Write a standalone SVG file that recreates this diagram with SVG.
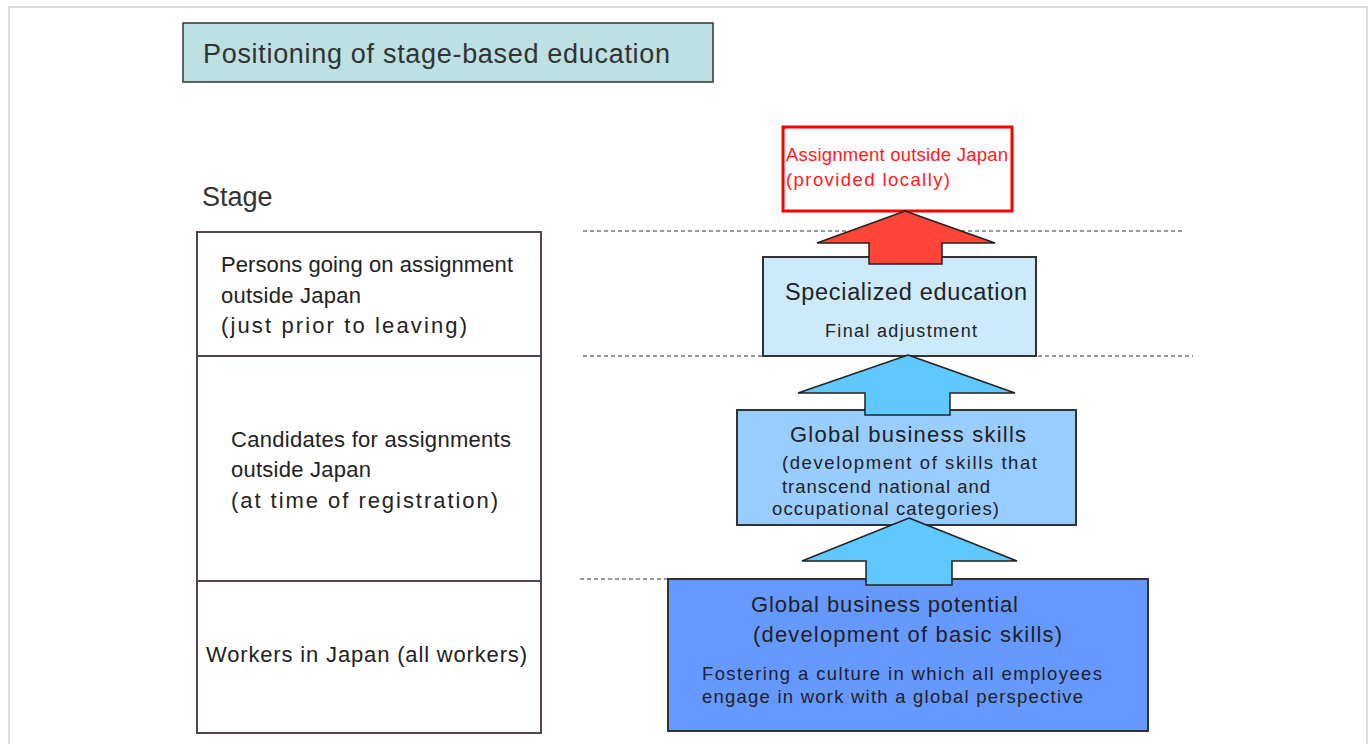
<svg xmlns="http://www.w3.org/2000/svg" width="1370" height="744" viewBox="0 0 1370 744">
<style>
text{font-family:"Liberation Sans",Arial,sans-serif;fill:#222}
.cell{fill:#fff;stroke:#54424f;stroke-width:2}
.box{stroke:#333;stroke-width:2}
.guide{stroke:#333;stroke-width:1;stroke-dasharray:4 3;fill:none}
.arrow{stroke:#222;stroke-width:1.5;stroke-linejoin:miter}
.f22{font-size:22px}
.f18{font-size:18.5px}
</style>
<rect width="1370" height="744" fill="#fff"/>
<path d="M9,744 V7 H1367 V744" fill="none" stroke="#dcdcdc" stroke-width="2"/>

<g id="title">
<rect x="183" y="23" width="530" height="59" fill="#bde0e3" stroke="#333" stroke-width="1.5"/>
<text x="203" y="63" font-size="27" textLength="467" lengthAdjust="spacing" style="fill:#333">Positioning of stage-based education</text>
</g>

<g id="stage-label">
<text x="202" y="206" font-size="27" style="fill:#333">Stage</text>
</g>

<g id="stage-assignment">
<rect class="cell" x="197" y="232" width="344" height="124"/>
<text class="f22" x="221" y="272" textLength="292" lengthAdjust="spacing">Persons going on assignment</text>
<text class="f22" x="221" y="303" textLength="140" lengthAdjust="spacing">outside Japan</text>
<text class="f22" x="221" y="333" textLength="246" lengthAdjust="spacing">(just prior to leaving)</text>
</g>

<g id="stage-candidates">
<rect class="cell" x="197" y="356" width="344" height="225"/>
<text class="f22" x="231" y="447" textLength="280" lengthAdjust="spacing">Candidates for assignments</text>
<text class="f22" x="231" y="477" textLength="140" lengthAdjust="spacing">outside Japan</text>
<text class="f22" x="231" y="508" textLength="267" lengthAdjust="spacing">(at time of registration)</text>
</g>

<g id="stage-workers">
<rect class="cell" x="197" y="581" width="344" height="152"/>
<text class="f22" x="206" y="662" textLength="321" lengthAdjust="spacing">Workers in Japan (all workers)</text>
</g>

<g id="guides">
<line class="guide" x1="583" y1="231" x2="1185" y2="231"/>
<line class="guide" x1="583" y1="356" x2="1193" y2="356"/>
<line class="guide" x1="580" y1="579" x2="668" y2="579"/>
</g>

<g id="assignment-outside">
<rect x="783" y="127" width="229" height="84" fill="#fff" stroke="#ff0000" stroke-width="3"/>
<text class="f18" x="786" y="161" textLength="222" lengthAdjust="spacing" style="fill:#ff1a1a">Assignment outside Japan</text>
<text class="f18" x="786" y="186" textLength="164" lengthAdjust="spacing" style="fill:#ff1a1a">(provided locally)</text>
</g>

<g id="specialized-education">
<rect class="box" x="763" y="257" width="273" height="99" fill="#cceafb"/>
<text x="785" y="300" font-size="23.5" textLength="242" lengthAdjust="spacing">Specialized education</text>
<text x="825" y="337" font-size="18" textLength="152" lengthAdjust="spacing">Final adjustment</text>
</g>

<g id="global-business-skills">
<rect class="box" x="737" y="410" width="339" height="115" fill="#99ccff"/>
<text class="f22" x="790" y="442" textLength="236" lengthAdjust="spacing">Global business skills</text>
<text class="f18" x="782" y="469" textLength="255" lengthAdjust="spacing">(development of skills that</text>
<text class="f18" x="782" y="493" textLength="208" lengthAdjust="spacing">transcend national and</text>
<text class="f18" x="772" y="515" textLength="227" lengthAdjust="spacing">occupational categories)</text>
</g>

<g id="global-business-potential">
<rect class="box" x="668" y="579" width="480" height="152" fill="#6699ff"/>
<text class="f22" x="751" y="612" textLength="267" lengthAdjust="spacing">Global business potential</text>
<text class="f22" x="753" y="642" textLength="309" lengthAdjust="spacing">(development of basic skills)</text>
<text class="f18" x="702" y="680" textLength="400" lengthAdjust="spacing">Fostering a culture in which all employees</text>
<text class="f18" x="702" y="703" textLength="381" lengthAdjust="spacing">engage in work with a global perspective</text>
</g>

<g id="connectors">
<path class="arrow" fill="#ff4438" d="M905,211 L995,243 L942,243 L942,264 L869,264 L869,243 L817,243 Z"/>
<path class="arrow" fill="#5ec8ff" d="M908,355 L1015,393 L950,393 L950,415 L865,415 L865,393 L798,393 Z"/>
<path class="arrow" fill="#5ec8ff" d="M909,518 L1017,561 L952,561 L952,585 L866,585 L866,561 L802,561 Z"/>
</g>
</svg>
